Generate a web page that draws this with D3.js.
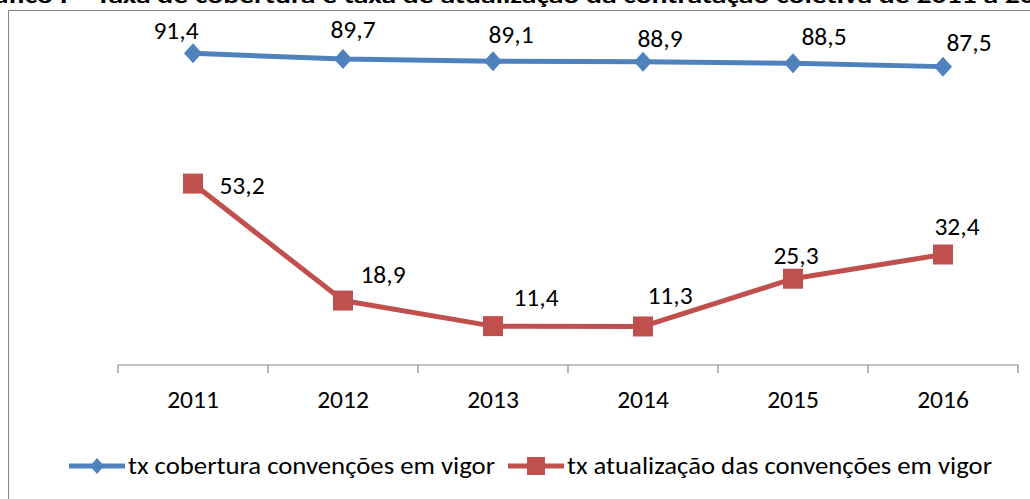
<!DOCTYPE html>
<html>
<head>
<meta charset="utf-8">
<script src="https://cdn.jsdelivr.net/npm/d3@7"></script>
<style>
  body { margin: 0; background: #fff; }
  svg { display: block; }
  text { font-family: Carlito, Lato, "Open Sans", sans-serif; fill: #000; }
</style>
</head>
<body>
<div id="chart"></div>
<script>
const years = ["2011", "2012", "2013", "2014", "2015", "2016"];
const cobertura = [91.4, 89.7, 89.1, 88.9, 88.5, 87.5];
const atualizacao = [53.2, 18.9, 11.4, 11.3, 25.3, 32.4];
const seriesNames = ["tx cobertura convenções em vigor", "tx atualização das convenções em vigor"];
const title = "Gráfico I – Taxa de cobertura e taxa de atualização da contratação coletiva de 2011 a 2016";

// label nudges (dx, dy) as placed in the original
const blueNudge = [[-17, -14], [10, -21], [18, -18], [17, -15], [31, -18], [26, -16]];
const redNudge = [[49, 10], [40, -18], [43, -20], [27, -22], [3, -15], [14, -20]];

const width = 1030, height = 499;
const blue = "#4F81BD", red = "#C0504D", grey = "#868686";
const fmt = v => v.toFixed(1).replace(".", ",");
const fontSize = 25.5;

const svg = d3.select("#chart").append("svg")
    .attr("width", width)
    .attr("height", height);

// title, mostly cut off at the top
svg.append("text")
    .attr("x", -35)
    .attr("y", 3)
    .attr("font-weight", "bold")
    .attr("font-size", 23)
    .attr("textLength", 1100)
    .attr("lengthAdjust", "spacingAndGlyphs")
    .text(title);

// chart border (runs off the right and bottom)
svg.append("path")
    .attr("d", `M8.5,${height + 2}V10.5H${width + 2}`)
    .attr("fill", "none")
    .attr("stroke", grey)
    .attr("stroke-width", 1);

const x = d3.scaleBand().domain(years).range([118, 1018]).padding(0);
const cx = d => x(d) + x.bandwidth() / 2;
const y = d3.scaleLinear().domain([0, 100]).range([365, 24]);

// x axis
const axis = svg.append("g").attr("stroke", grey).attr("stroke-width", 1.2);
axis.append("line")
    .attr("x1", x.range()[0]).attr("x2", x.range()[1])
    .attr("y1", y(0)).attr("y2", y(0));
axis.selectAll(".tick")
  .data(years.map(d => x(d)).concat([x.range()[1]]))
  .join("line")
    .attr("x1", d => d).attr("x2", d => d)
    .attr("y1", y(0)).attr("y2", y(0) + 8);

svg.append("g")
    .attr("font-size", fontSize)
    .attr("text-anchor", "middle")
  .selectAll("text")
  .data(years)
  .join("text")
    .attr("x", d => cx(d))
    .attr("y", y(0) + 43)
    .text(d => d);

const line = d3.line()
    .x((d, i) => cx(years[i]))
    .y(d => y(d));

function drawSeries(values, color, marker, nudge) {
  const g = svg.append("g");
  g.append("path")
      .datum(values)
      .attr("fill", "none")
      .attr("stroke", color)
      .attr("stroke-width", 5)
      .attr("stroke-linejoin", "round")
      .attr("d", line);
  g.selectAll("path.m")
    .data(values)
    .join("path")
      .attr("class", "m")
      .attr("fill", color)
      .attr("transform", (d, i) => `translate(${cx(years[i])},${y(d)})`)
      .attr("d", marker);
  g.selectAll("text")
    .data(values)
    .join("text")
      .attr("font-size", fontSize)
      .attr("text-anchor", "middle")
      .attr("x", (d, i) => cx(years[i]) + nudge[i][0])
      .attr("y", (d, i) => y(d) + nudge[i][1])
      .text(d => fmt(d));
}

const diamond = "M0,-10L9,0L0,10L-9,0Z";
const square = "M-10,-10H10V10H-10Z";

drawSeries(cobertura, blue, diamond, blueNudge);
drawSeries(atualizacao, red, square, redNudge);

// legend
const legend = [
  {name: seriesNames[0], color: blue, marker: "M0,-8L7,0L0,8L-7,0Z", x0: 69, len: 367},
  {name: seriesNames[1], color: red, marker: "M-9,-9H9V9H-9Z", x0: 508, len: 425}
];
const lg = svg.append("g");
legend.forEach(l => {
  lg.append("line")
      .attr("x1", l.x0).attr("x2", l.x0 + 56)
      .attr("y1", 466).attr("y2", 466)
      .attr("stroke", l.color).attr("stroke-width", 5);
  lg.append("path")
      .attr("transform", `translate(${l.x0 + 28},466)`)
      .attr("fill", l.color)
      .attr("d", l.marker);
  lg.append("text")
      .attr("x", l.x0 + 59)
      .attr("y", 474)
      .attr("font-size", fontSize)
      .attr("textLength", l.len)
      .attr("lengthAdjust", "spacingAndGlyphs")
      .text(l.name);
});
</script>
</body>
</html>
